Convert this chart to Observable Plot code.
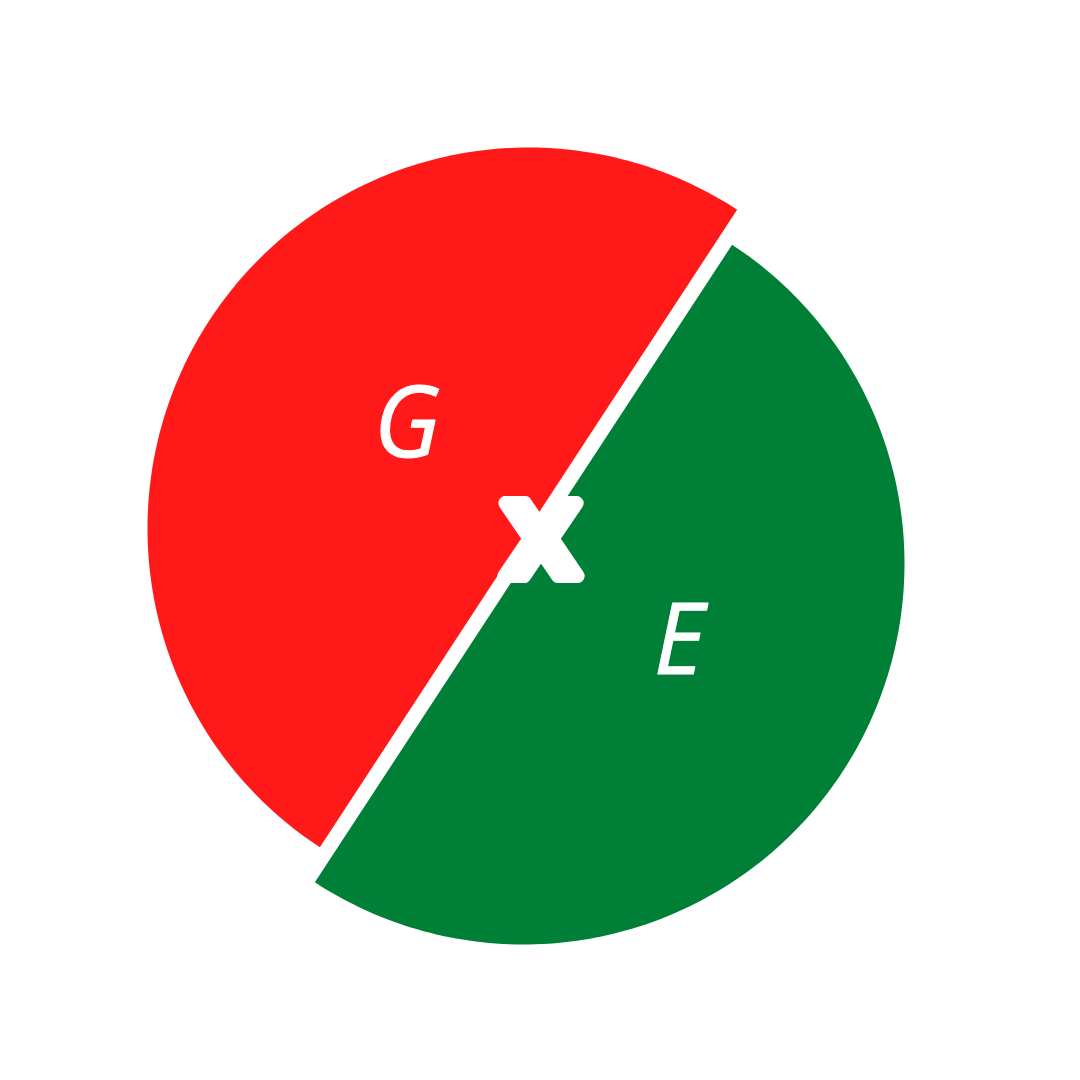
<!DOCTYPE html>
<html>
<head>
<meta charset="utf-8">
<script src="https://cdn.jsdelivr.net/npm/d3@7"></script>
<script src="https://cdn.jsdelivr.net/npm/@observablehq/plot@0.6"></script>
<style>
  body { margin: 0; background: #fff; }
</style>
</head>
<body>
<div id="chart"></div>
<script>
// datos del grafico
const labels = ["E", "G"]
const values = [50, 50]
const colors = ["#008037", "#ff1919"]

// layout (pixeles)
const size = 1080
const R = 381
const cx = 525.5, cy = 545.5
const startDeg = 33.2
// separacion de cada porcion (px, y hacia abajo)
const pull = { E: [-2.5, 17.5], G: [2.5, -17.5] }

const arcs = d3.pie().sort(null)
  .startAngle(startDeg * Math.PI / 180)
  .endAngle(startDeg * Math.PI / 180 + 2 * Math.PI)(values)

// puntos de cada porcion en unidades del radio
const slices = arcs.map((a, i) => {
  const name = labels[i]
  const ox = pull[name][0] / R, oy = -pull[name][1] / R
  const pts = [{ x: ox, y: oy }]
  const n = 180
  for (let k = 0; k <= n; k++) {
    const t = a.startAngle + (a.endAngle - a.startAngle) * k / n
    pts.push({ x: ox + Math.sin(t), y: oy + Math.cos(t) })
  }
  pts.push({ x: ox, y: oy })
  const mid = (a.startAngle + a.endAngle) / 2
  const rc = 4 / (3 * Math.PI) + 0.01
  return { name, color: colors[i], pts, label: { name, x: ox + rc * Math.sin(mid), y: oy + rc * Math.cos(mid) } }
})

let chart = Plot.plot({
  width: size,
  height: size,
  margin: 0,
  x: { domain: [-cx / R, (size - cx) / R], axis: null },
  y: { domain: [-(size - cy) / R, cy / R], axis: null },
  marks: [
    ...slices.map(s => Plot.line(s.pts, { x: "x", y: "y", fill: s.color, stroke: "none" })),
    Plot.text(slices.map(s => s.label), {
      x: "x", y: "y", text: "name",
      fill: "white", stroke: "white", strokeWidth: 1,
      fontSize: 98, fontStyle: "italic", fontFamily: "Open Sans",
      dx: 17, dy: -12
    }),
    Plot.text([{ x: 0, y: 0 }], {
      x: "x", y: "y", text: () => "X",
      fill: "white", stroke: "white", strokeWidth: 14, strokeLinejoin: "round",
      fontSize: 100, fontWeight: "bold", fontFamily: "DejaVu Sans",
      dx: 15, dy: -2
    })
  ],
  style: { background: "white" }
})

d3.select('#chart').append(() => chart)
</script>
</body>
</html>
